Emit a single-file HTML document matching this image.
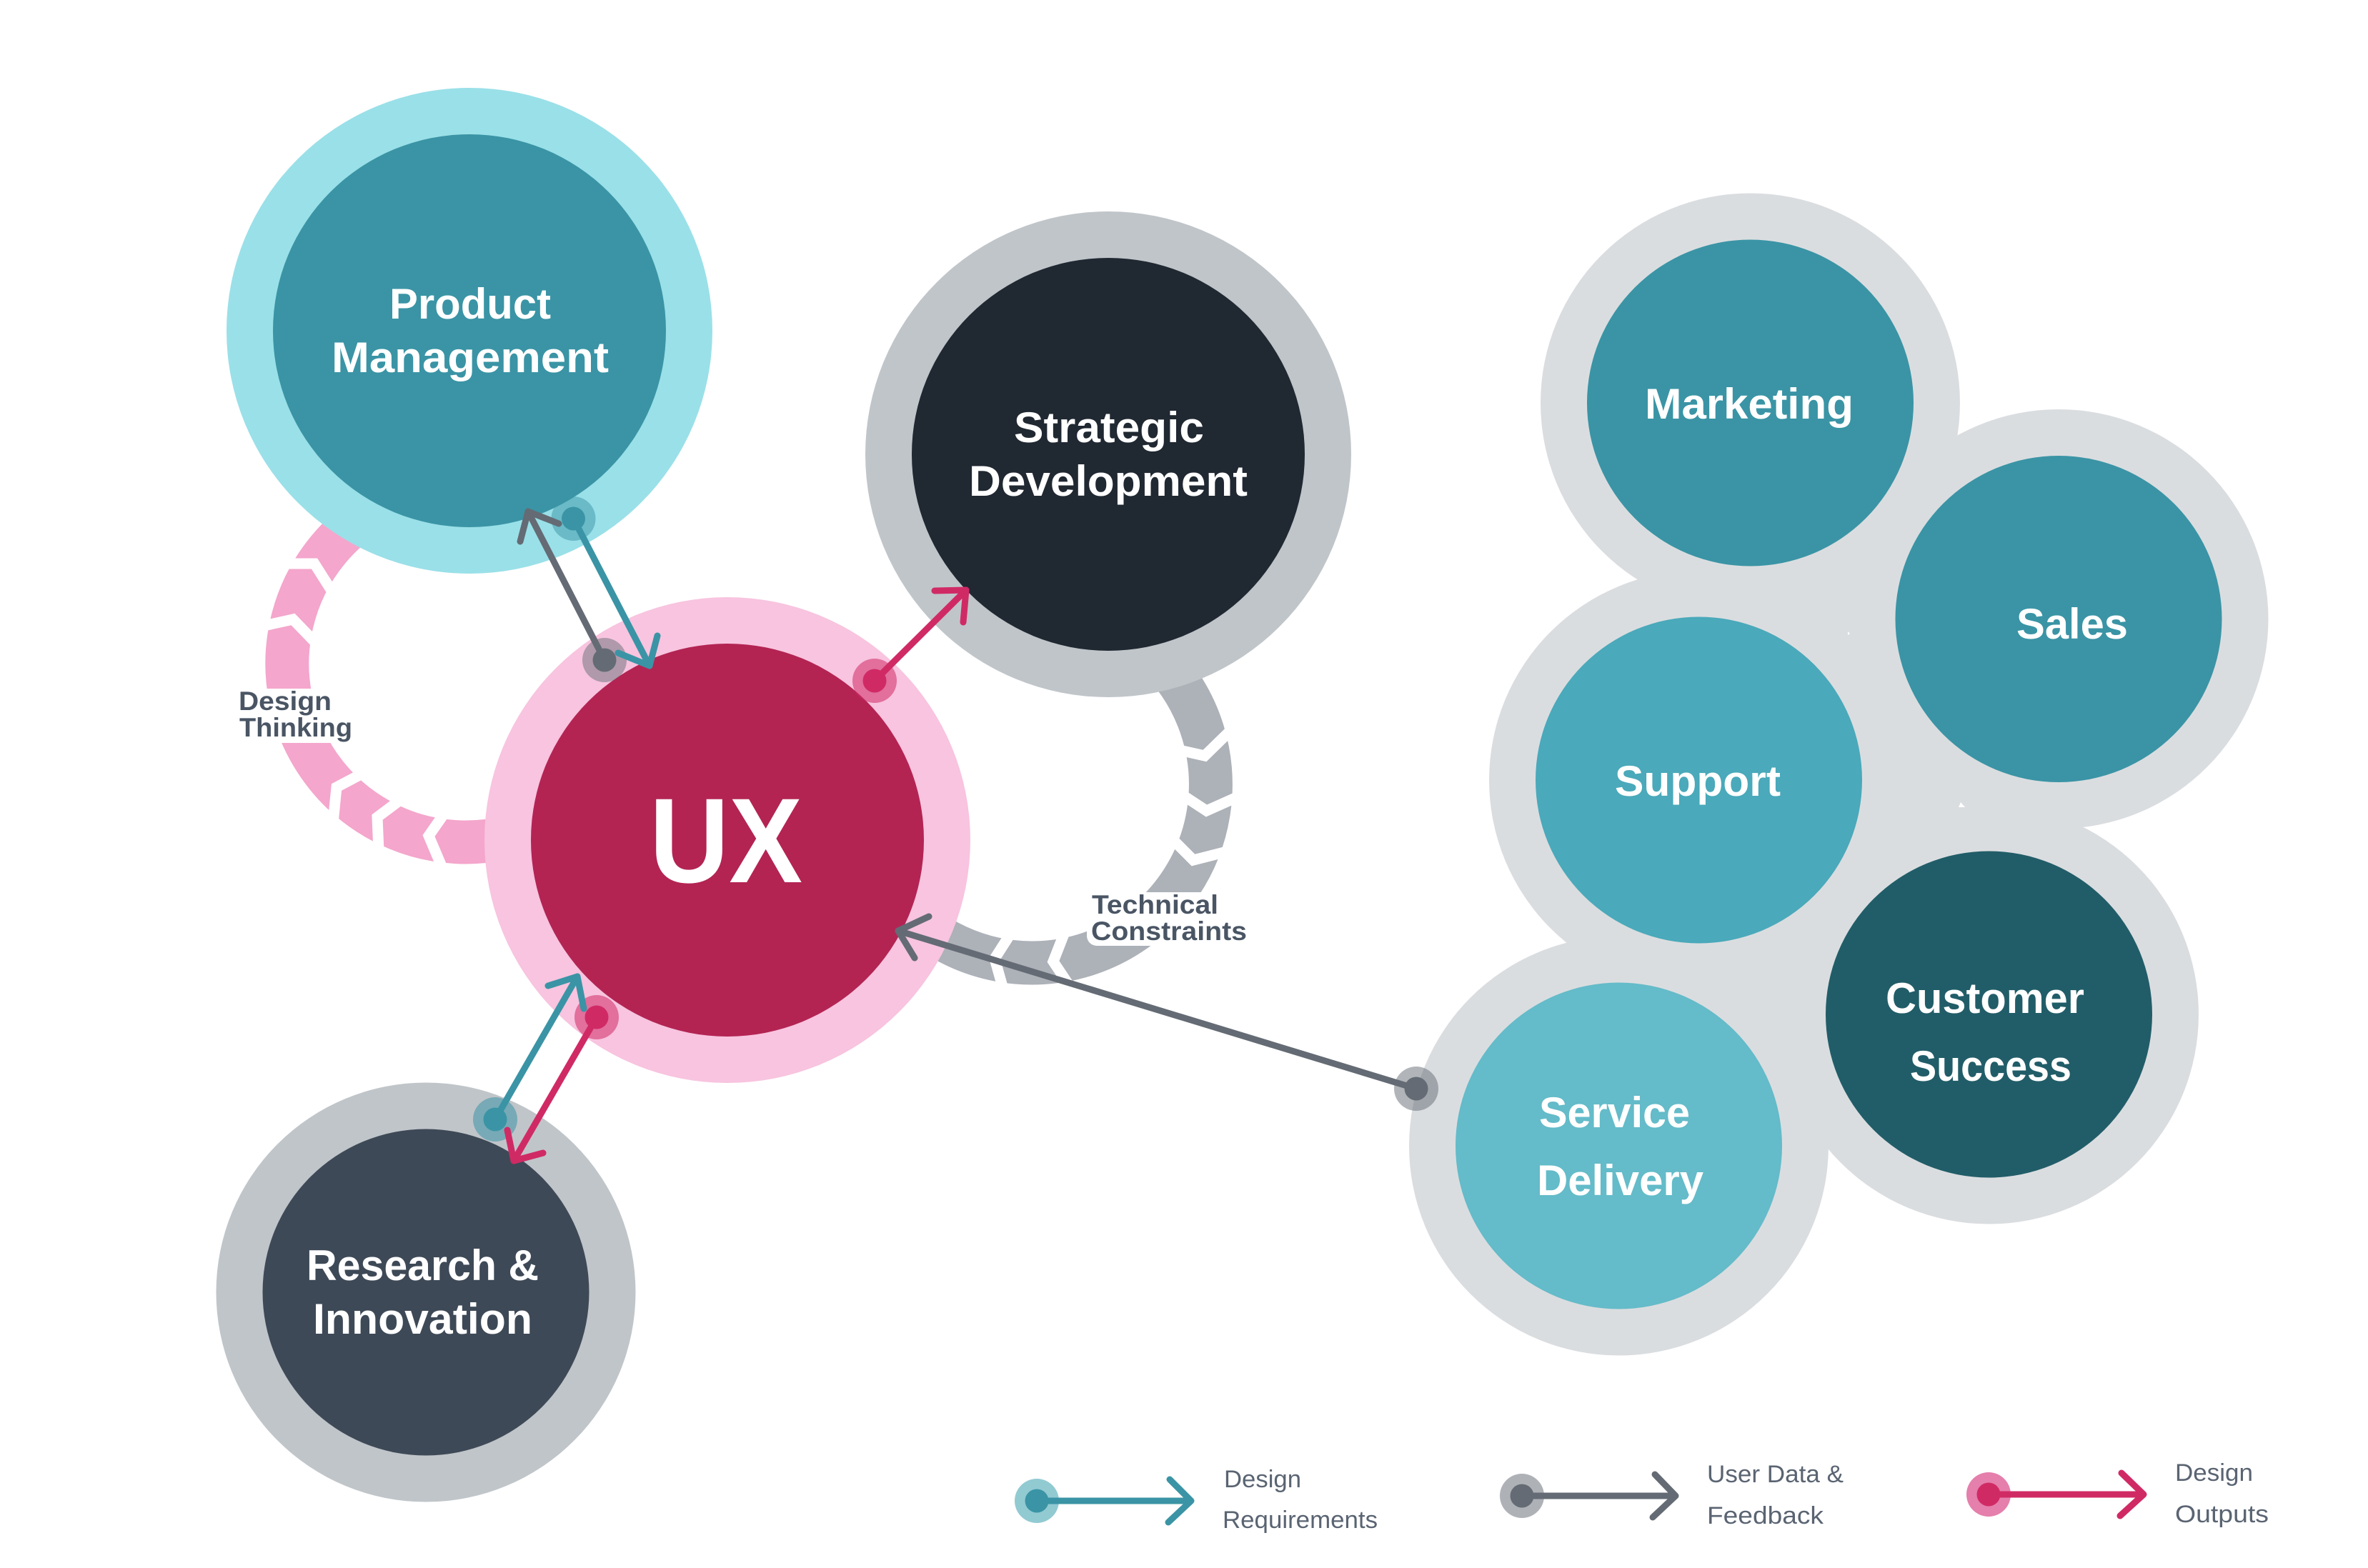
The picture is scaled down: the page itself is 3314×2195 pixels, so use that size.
<!DOCTYPE html>
<html lang="en">
<head>
<meta charset="utf-8">
<title>UX Diagram</title>
<style>
html,body{margin:0;padding:0;background:#fff;}
svg{display:block;}
text{font-family:"Liberation Sans",sans-serif;}
.n{font-size:60px;font-weight:bold;fill:#fff;}
.l{font-size:37px;font-weight:bold;fill:#4A5564;}
.g{font-size:34px;fill:#5A6472;}
</style>
</head>
<body>
<svg xmlns="http://www.w3.org/2000/svg" width="3314" height="2195" viewBox="0 0 3314 2195">
<rect width="3314" height="2195" fill="#fff"/>

<!-- Pink ring -->
<path d="M652 679A250 250 0 1 0 745 1161" fill="none" stroke="#F4A6CC" stroke-width="61"/>
<g fill="none" stroke="#fff" stroke-width="15" stroke-linejoin="miter">
<polyline points="395,789 440,789 466,830"/>
<polyline points="360,878 410,867 440,898"/>
<polyline points="466,1152 471,1102 505,1084"/>
<polyline points="530,1192 528,1144 560,1120"/>
<polyline points="622,1222 600,1170 623,1137"/>
</g>
<rect x="340" y="964" width="135" height="76" fill="#fff"/>

<!-- Grey ring -->
<path d="M1521 860A250 250 0 1 1 1254 1260" fill="none" stroke="#ADB1B8" stroke-width="61"/>
<g fill="none" stroke="#fff" stroke-width="15" stroke-linejoin="miter">
<polyline points="1730,1015 1686,1058 1650,1050"/>
<polyline points="1740,1112 1688.5,1135 1655,1113"/>
<polyline points="1725,1190 1670,1204 1638,1172"/>
<polyline points="1492,1300 1474,1346 1500,1385"/>
<polyline points="1422,1295 1392,1342 1405,1388"/>
</g>
<rect x="1521" y="1249" width="230" height="75" rx="14" fill="#fff"/>

<!-- Main circles -->
<circle cx="657" cy="463" r="340" fill="#9AE0E8"/>
<circle cx="657" cy="463" r="275" fill="#3A94A5"/>
<circle cx="1551" cy="636" r="340" fill="#C0C5C9"/>
<circle cx="1551" cy="636" r="275" fill="#202832"/>
<circle cx="1018" cy="1176" r="340" fill="#F8C4DF"/>
<circle cx="1018" cy="1176" r="275" fill="#B32453"/>
<circle cx="596" cy="1809" r="293.5" fill="#C0C5C9"/>
<circle cx="596" cy="1809" r="228.5" fill="#3E4957"/>

<!-- Right cluster -->
<g fill="#DADDE0">
<circle cx="2449.5" cy="564" r="293.5"/>
<circle cx="2881" cy="866.5" r="293.5"/>
<circle cx="2377.5" cy="1092" r="293.5"/>
<circle cx="2783.5" cy="1420" r="293.5"/>
<circle cx="2265.5" cy="1604" r="293.5"/>
<polygon points="2449.5,564 2881,866.5 2783.5,1420 2265.5,1604 2377.5,1092"/>
</g>
<polygon points="2586,884 2589,887 2586,889" fill="#fff"/>
<polygon points="2741,1130 2744,1123 2750,1130" fill="#fff"/>
<circle cx="2449.5" cy="564" r="228.5" fill="#3A94A5"/>
<circle cx="2881" cy="866.5" r="228.5" fill="#3A94A5"/>
<circle cx="2377.5" cy="1092" r="228.5" fill="#4AA9BA"/>
<circle cx="2783.5" cy="1420" r="228.5" fill="#215D68"/>
<circle cx="2265.5" cy="1604" r="228.5" fill="#64BBC9"/>

<!-- Node labels -->
<text class="n" x="545" y="446" textLength="226" lengthAdjust="spacingAndGlyphs">Product</text>
<text class="n" x="464" y="521" textLength="388" lengthAdjust="spacingAndGlyphs">Management</text>
<text class="n" x="1419" y="619" textLength="266" lengthAdjust="spacingAndGlyphs">Strategic</text>
<text class="n" x="1356" y="694" textLength="390" lengthAdjust="spacingAndGlyphs">Development</text>
<text x="909" y="1235" font-size="169" font-weight="bold" fill="#fff" textLength="214" lengthAdjust="spacingAndGlyphs">UX</text>
<text class="n" x="429" y="1792" textLength="325" lengthAdjust="spacingAndGlyphs">Research &amp;</text>
<text class="n" x="438" y="1867" textLength="307" lengthAdjust="spacingAndGlyphs">Innovation</text>
<text class="n" x="2302" y="586" textLength="292" lengthAdjust="spacingAndGlyphs">Marketing</text>
<text class="n" x="2822" y="894" textLength="156" lengthAdjust="spacingAndGlyphs">Sales</text>
<text class="n" x="2260" y="1114" textLength="232" lengthAdjust="spacingAndGlyphs">Support</text>
<text class="n" x="2639" y="1418" textLength="278" lengthAdjust="spacingAndGlyphs">Customer</text>
<text class="n" x="2673" y="1513" textLength="226" lengthAdjust="spacingAndGlyphs">Success</text>
<text class="n" x="2154" y="1578" textLength="211" lengthAdjust="spacingAndGlyphs">Service</text>
<text class="n" x="2151" y="1673" textLength="233" lengthAdjust="spacingAndGlyphs">Delivery</text>

<!-- Ring labels -->
<text class="l" x="334" y="994" textLength="130" lengthAdjust="spacingAndGlyphs">Design</text>
<text class="l" x="335" y="1031" textLength="158" lengthAdjust="spacingAndGlyphs">Thinking</text>
<text class="l" x="1528" y="1279" textLength="177" lengthAdjust="spacingAndGlyphs">Technical</text>
<text class="l" x="1527" y="1316" textLength="218" lengthAdjust="spacingAndGlyphs">Constraints</text>

<!-- Connectors -->
<g fill="none" stroke-width="9" stroke-linecap="round" stroke-linejoin="round">
  <!-- PM / UX -->
  <circle cx="802.5" cy="726" r="31" fill="#3A94A5" stroke="none" opacity=".5"/>
  <circle cx="846" cy="924" r="31" fill="#666D75" stroke="none" opacity=".5"/>
  <path d="M846 924L739 716" stroke="#646B74"/>
  <path d="M782 733L739 716L728 758" stroke="#646B74"/>
  <path d="M802.5 726L909 932" stroke="#3A94A5"/>
  <path d="M920 890L909 932L865 914" stroke="#3A94A5"/>
  <circle cx="802.5" cy="726" r="16.5" fill="#3A94A5" stroke="none"/>
  <circle cx="846" cy="924" r="16.5" fill="#646B74" stroke="none"/>

  <!-- UX / Strategic -->
  <circle cx="1224" cy="953" r="31" fill="#D02A65" stroke="none" opacity=".55"/>
  <path d="M1224 953L1352 826" stroke="#D02A65"/>
  <path d="M1308 827L1352 826L1348 871" stroke="#D02A65"/>
  <circle cx="1224" cy="953" r="16.5" fill="#D02A65" stroke="none"/>

  <!-- UX / Research -->
  <circle cx="693" cy="1567" r="31" fill="#3A94A5" stroke="none" opacity=".55"/>
  <circle cx="835" cy="1424" r="31" fill="#D02A65" stroke="none" opacity=".55"/>
  <path d="M693 1567L808 1367" stroke="#3A94A5"/>
  <path d="M767 1380L808 1367L817 1412" stroke="#3A94A5"/>
  <path d="M835 1424L719 1625" stroke="#D02A65"/>
  <path d="M710 1582L719 1625L760 1614" stroke="#D02A65"/>
  <circle cx="693" cy="1567" r="16.5" fill="#3A94A5" stroke="none"/>
  <circle cx="835" cy="1424" r="16.5" fill="#D02A65" stroke="none"/>

  <!-- Service / UX -->
  <circle cx="1982" cy="1524" r="31" fill="#646B74" stroke="none" opacity=".5"/>
  <path d="M1982 1524L1257 1303" stroke="#646B74"/>
  <path d="M1300 1283L1257 1303L1280 1341" stroke="#646B74"/>
  <circle cx="1982" cy="1524" r="16.5" fill="#646B74" stroke="none"/>

  <!-- Legend -->
  <circle cx="1451" cy="2101" r="31" fill="#92CAD2" stroke="none"/>
  <path d="M1451 2101H1665" stroke="#3A94A5"/>
  <path d="M1637 2071L1667 2101L1635 2131" stroke="#3A94A5"/>
  <circle cx="1451" cy="2101" r="16.5" fill="#3A94A5" stroke="none"/>

  <circle cx="2130" cy="2094" r="31" fill="#AEB2B7" stroke="none"/>
  <path d="M2130 2094H2343" stroke="#646B74"/>
  <path d="M2316 2064L2345 2094L2313 2124" stroke="#646B74"/>
  <circle cx="2130" cy="2094" r="16.5" fill="#646B74" stroke="none"/>

  <circle cx="2783" cy="2092" r="31" fill="#E57FAC" stroke="none"/>
  <path d="M2783 2092H2998" stroke="#D02A65"/>
  <path d="M2969 2062L3000 2092L2967 2122" stroke="#D02A65"/>
  <circle cx="2783" cy="2092" r="16.5" fill="#D02A65" stroke="none"/>
</g>

<!-- Legend text -->
<text class="g" x="1713" y="2082" textLength="108" lengthAdjust="spacingAndGlyphs">Design</text>
<text class="g" x="1711" y="2139" textLength="217" lengthAdjust="spacingAndGlyphs">Requirements</text>
<text class="g" x="2389" y="2075" textLength="191" lengthAdjust="spacingAndGlyphs">User Data &amp;</text>
<text class="g" x="2389" y="2133" textLength="163" lengthAdjust="spacingAndGlyphs">Feedback</text>
<text class="g" x="3044" y="2073" textLength="109" lengthAdjust="spacingAndGlyphs">Design</text>
<text class="g" x="3044" y="2131" textLength="131" lengthAdjust="spacingAndGlyphs">Outputs</text>
</svg>
</body>
</html>
